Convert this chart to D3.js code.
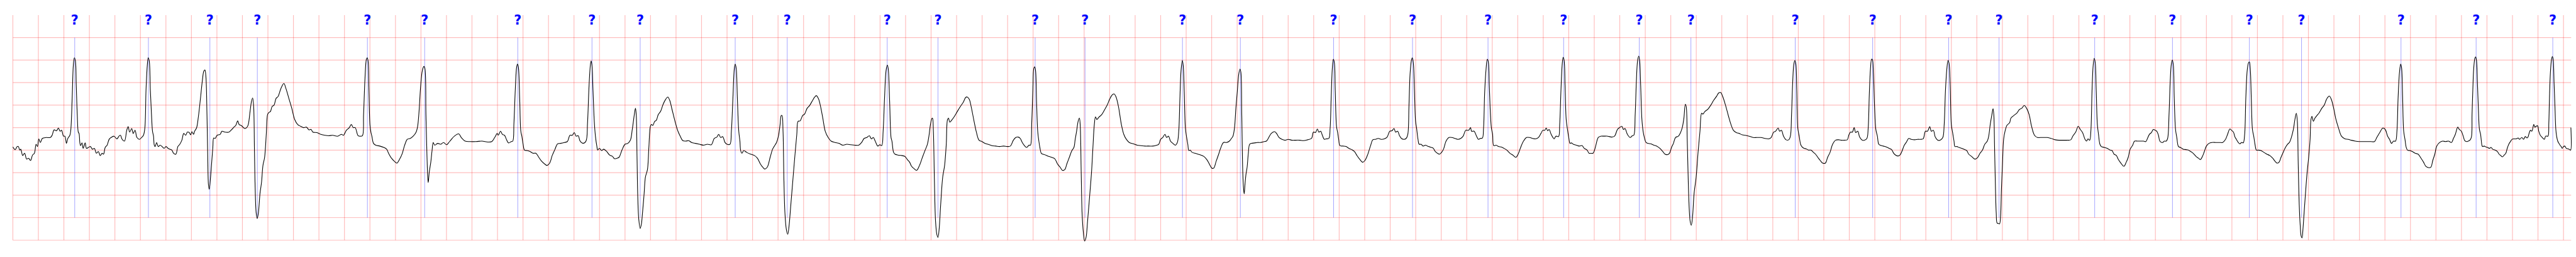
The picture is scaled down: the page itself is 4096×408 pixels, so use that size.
<!DOCTYPE html>
<html>
<head>
<meta charset="utf-8">
<script src="https://cdn.jsdelivr.net/npm/d3@7"></script>
<style>
html,body{margin:0;padding:0;background:#fff;overflow:hidden;}
svg{display:block;}
</style>
</head>
<body>
<svg id="chart"></svg>
<script>
// ECG trace samples: [time (s), amplitude (mV)]
const ecgTrace = [
[0.000,0.07],[0.018,0.01],[0.034,0.08],[0.043,0.08],[0.054,0.00],[0.062,0.02],[0.077,-0.12],[0.092,-0.07],[0.108,-0.20],[0.123,-0.18],
[0.139,-0.23],[0.154,-0.11],[0.169,-0.07],[0.182,0.13],[0.193,0.08],[0.203,0.25],[0.216,0.17],[0.231,0.26],[0.262,0.28],[0.293,0.28],
[0.308,0.33],[0.323,0.45],[0.342,0.43],[0.357,0.49],[0.370,0.42],[0.382,0.44],[0.397,0.31],[0.408,0.31],[0.420,0.15],[0.431,0.26],
[0.447,0.33],[0.454,0.44],[0.465,1.15],[0.474,1.88],[0.482,2.05],[0.490,1.99],[0.497,1.44],[0.505,0.79],[0.513,0.40],[0.519,0.37],
[0.525,0.17],[0.531,0.10],[0.542,0.16],[0.551,0.04],[0.567,0.16],[0.577,0.04],[0.593,0.06],[0.608,0.08],[0.624,0.02],[0.639,0.04],
[0.655,-0.07],[0.670,-0.03],[0.685,-0.12],[0.700,-0.07],[0.711,-0.09],[0.724,0.06],[0.739,0.11],[0.755,0.24],[0.770,0.28],[0.793,0.31],
[0.816,0.25],[0.832,0.31],[0.844,0.33],[0.855,0.25],[0.875,0.20],[0.893,0.44],[0.904,0.52],[0.916,0.40],[0.932,0.48],[0.943,0.37],
[0.958,0.44],[0.973,0.28],[0.993,0.24],[1.009,0.28],[1.024,0.33],[1.035,0.49],[1.044,1.33],[1.054,1.88],[1.061,2.05],[1.069,1.99],
[1.078,1.33],[1.087,0.79],[1.095,0.42],[1.103,0.31],[1.109,0.11],[1.116,0.08],[1.127,0.17],[1.140,0.08],[1.155,0.11],[1.170,0.08],
[1.186,0.04],[1.201,0.08],[1.217,0.04],[1.232,0.02],[1.247,0.00],[1.260,-0.07],[1.278,-0.09],[1.294,0.08],[1.309,0.13],[1.325,0.22],
[1.340,0.37],[1.355,0.33],[1.368,0.40],[1.383,0.39],[1.394,0.34],[1.404,0.41],[1.417,0.35],[1.425,0.42],[1.440,0.49],[1.455,0.75],
[1.471,1.15],[1.486,1.55],[1.497,1.75],[1.506,1.78],[1.514,1.62],[1.522,0.79],[1.528,-0.12],[1.534,-0.78],[1.540,-0.87],[1.548,-0.67],
[1.558,-0.31],[1.568,0.06],[1.575,0.27],[1.586,0.26],[1.602,0.33],[1.625,0.35],[1.640,0.42],[1.663,0.40],[1.694,0.40],[1.717,0.46],
[1.733,0.51],[1.748,0.55],[1.763,0.65],[1.774,0.57],[1.794,0.54],[1.817,0.48],[1.833,0.50],[1.845,0.56],[1.860,0.86],[1.871,1.08],
[1.880,1.16],[1.888,0.97],[1.894,0.06],[1.900,-0.85],[1.908,-1.40],[1.916,-1.52],[1.925,-1.40],[1.938,-0.96],[1.950,-0.71],[1.961,-0.34],
[1.974,-0.16],[1.987,0.35],[1.997,0.79],[2.005,0.83],[2.020,0.86],[2.033,0.97],[2.048,1.00],[2.064,1.15],[2.079,1.19],[2.102,1.37],
[2.125,1.48],[2.141,1.37],[2.164,1.15],[2.187,0.93],[2.210,0.68],[2.233,0.57],[2.256,0.53],[2.279,0.50],[2.302,0.51],[2.322,0.45],
[2.338,0.46],[2.353,0.40],[2.384,0.39],[2.415,0.35],[2.446,0.33],[2.477,0.32],[2.507,0.33],[2.546,0.31],[2.577,0.35],[2.592,0.33],
[2.615,0.44],[2.638,0.50],[2.654,0.57],[2.669,0.50],[2.684,0.50],[2.707,0.32],[2.723,0.31],[2.741,0.32],[2.750,0.79],[2.761,1.59],
[2.772,2.02],[2.778,2.05],[2.785,1.99],[2.792,1.33],[2.800,0.57],[2.808,0.39],[2.815,0.31],[2.828,0.15],[2.846,0.11],[2.877,0.09],
[2.908,0.06],[2.931,0.02],[2.946,-0.07],[2.969,-0.18],[2.992,-0.25],[3.011,-0.29],[3.031,-0.21],[3.054,-0.07],[3.070,0.09],[3.093,0.24],
[3.116,0.26],[3.139,0.31],[3.162,0.40],[3.174,0.53],[3.185,0.86],[3.197,1.40],[3.211,1.77],[3.223,1.86],[3.231,1.81],[3.239,0.79],
[3.247,-0.12],[3.253,-0.60],[3.257,-0.72],[3.265,-0.49],[3.277,-0.27],[3.287,-0.01],[3.296,0.17],[3.308,0.11],[3.331,0.15],[3.354,0.13],
[3.377,0.17],[3.401,0.12],[3.424,0.19],[3.462,0.31],[3.496,0.36],[3.516,0.28],[3.547,0.20],[3.585,0.19],[3.632,0.19],[3.678,0.20],
[3.724,0.18],[3.755,0.19],[3.778,0.28],[3.798,0.37],[3.806,0.33],[3.824,0.42],[3.839,0.35],[3.855,0.33],[3.870,0.24],[3.886,0.16],
[3.909,0.19],[3.920,0.20],[3.929,0.60],[3.940,1.37],[3.950,1.84],[3.957,1.91],[3.964,1.84],[3.974,1.15],[3.983,0.42],[3.991,0.31],
[4.001,0.13],[4.012,0.00],[4.032,-0.01],[4.055,-0.03],[4.078,-0.07],[4.101,-0.07],[4.124,-0.16],[4.147,-0.25],[4.171,-0.31],[4.189,-0.34],
[4.209,-0.29],[4.229,-0.12],[4.251,0.02],[4.271,0.14],[4.294,0.15],[4.325,0.17],[4.348,0.19],[4.368,0.33],[4.386,0.33],[4.402,0.39],
[4.417,0.31],[4.433,0.32],[4.448,0.20],[4.471,0.15],[4.494,0.20],[4.506,0.60],[4.517,1.37],[4.528,1.88],[4.534,1.98],[4.540,1.91],
[4.549,1.33],[4.559,0.64],[4.568,0.31],[4.579,0.09],[4.586,0.00],[4.599,0.04],[4.617,-0.01],[4.633,0.02],[4.656,-0.03],[4.679,-0.11],
[4.702,-0.14],[4.717,-0.19],[4.737,-0.18],[4.753,-0.16],[4.776,0.00],[4.800,0.13],[4.822,0.15],[4.842,0.22],[4.857,0.46],[4.873,0.79],
[4.882,0.93],[4.888,0.79],[4.894,-0.12],[4.900,-1.03],[4.908,-1.54],[4.919,-1.74],[4.928,-1.65],[4.937,-1.40],[4.950,-0.96],[4.960,-0.60],
[4.976,-0.43],[4.987,0.06],[4.999,0.53],[5.007,0.57],[5.018,0.55],[5.033,0.64],[5.045,0.66],[5.061,0.79],[5.079,0.86],[5.099,1.02],
[5.119,1.13],[5.135,1.18],[5.150,1.11],[5.169,0.90],[5.192,0.64],[5.215,0.42],[5.233,0.31],[5.253,0.21],[5.276,0.20],[5.299,0.21],
[5.322,0.17],[5.353,0.15],[5.384,0.13],[5.415,0.11],[5.446,0.13],[5.477,0.12],[5.500,0.26],[5.520,0.29],[5.535,0.35],[5.550,0.28],
[5.566,0.30],[5.584,0.17],[5.600,0.13],[5.623,0.13],[5.634,0.42],[5.646,1.15],[5.657,1.81],[5.664,1.91],[5.672,1.81],[5.681,1.15],
[5.692,0.42],[5.701,0.20],[5.707,-0.01],[5.717,-0.07],[5.731,-0.01],[5.754,-0.05],[5.785,-0.09],[5.815,-0.12],[5.838,-0.18],[5.862,-0.31],
[5.880,-0.38],[5.895,-0.42],[5.915,-0.38],[5.938,-0.16],[5.957,0.02],[5.969,0.08],[5.988,0.17],[6.003,0.31],[6.016,0.57],[6.025,0.77],
[6.031,0.77],[6.039,0.42],[6.046,-0.67],[6.054,-1.40],[6.065,-1.76],[6.076,-1.87],[6.086,-1.69],[6.100,-1.22],[6.116,-0.67],[6.131,-0.16],
[6.147,0.35],[6.157,0.64],[6.173,0.65],[6.193,0.77],[6.208,0.80],[6.228,0.93],[6.247,0.99],[6.270,1.10],[6.285,1.17],[6.300,1.21],
[6.316,1.15],[6.331,1.00],[6.351,0.71],[6.370,0.42],[6.393,0.28],[6.416,0.20],[6.447,0.17],[6.478,0.15],[6.508,0.11],[6.539,0.13],
[6.570,0.12],[6.601,0.11],[6.632,0.11],[6.655,0.17],[6.675,0.26],[6.696,0.28],[6.716,0.32],[6.732,0.25],[6.747,0.28],[6.762,0.20],
[6.782,0.09],[6.798,0.12],[6.813,0.10],[6.824,0.42],[6.835,1.15],[6.847,1.77],[6.857,1.89],[6.864,1.81],[6.875,1.08],[6.886,0.28],
[6.893,0.20],[6.906,-0.05],[6.917,-0.09],[6.940,-0.11],[6.970,-0.12],[6.994,-0.14],[7.014,-0.21],[7.032,-0.27],[7.047,-0.36],[7.066,-0.41],
[7.086,-0.45],[7.109,-0.34],[7.132,-0.16],[7.152,-0.01],[7.171,0.13],[7.183,0.31],[7.195,0.57],[7.206,0.70],[7.211,0.71],[7.218,0.42],
[7.226,-0.67],[7.235,-1.58],[7.245,-1.87],[7.254,-1.94],[7.263,-1.76],[7.275,-1.22],[7.291,-0.60],[7.306,-0.34],[7.319,0.13],[7.329,0.68],
[7.337,0.71],[7.346,0.62],[7.360,0.66],[7.383,0.75],[7.406,0.86],[7.430,0.97],[7.452,1.06],[7.471,1.17],[7.483,1.18],[7.499,1.13],
[7.514,0.97],[7.537,0.64],[7.556,0.39],[7.576,0.22],[7.599,0.19],[7.622,0.15],[7.645,0.13],[7.676,0.10],[7.707,0.09],[7.737,0.08],
[7.768,0.09],[7.799,0.08],[7.822,0.09],[7.845,0.22],[7.864,0.28],[7.884,0.29],[7.899,0.26],[7.915,0.17],[7.935,0.09],[7.950,0.06],
[7.968,0.11],[7.979,0.11],[7.989,0.60],[7.998,1.33],[8.005,1.81],[8.012,1.85],[8.019,1.77],[8.027,1.08],[8.036,0.42],[8.045,0.20],
[8.053,0.06],[8.064,-0.07],[8.076,-0.09],[8.099,-0.11],[8.122,-0.14],[8.146,-0.16],[8.169,-0.19],[8.192,-0.31],[8.212,-0.38],[8.230,-0.45],
[8.249,-0.43],[8.264,-0.31],[8.284,-0.16],[8.304,-0.01],[8.320,0.06],[8.330,0.24],[8.341,0.42],[8.353,0.64],[8.363,0.71],[8.369,0.57],
[8.377,-0.49],[8.384,-1.40],[8.394,-1.83],[8.404,-2.02],[8.415,-1.94],[8.427,-1.58],[8.443,-1.03],[8.458,-0.49],[8.469,0.06],[8.480,0.57],
[8.489,0.74],[8.500,0.68],[8.515,0.73],[8.538,0.79],[8.561,0.90],[8.581,1.00],[8.600,1.13],[8.618,1.22],[8.634,1.25],[8.649,1.19],
[8.669,0.97],[8.692,0.57],[8.711,0.35],[8.731,0.24],[8.754,0.17],[8.785,0.14],[8.816,0.11],[8.846,0.10],[8.877,0.09],[8.908,0.09],
[8.939,0.09],[8.969,0.11],[8.985,0.13],[9.000,0.24],[9.016,0.28],[9.034,0.35],[9.047,0.28],[9.062,0.31],[9.077,0.20],[9.096,0.15],
[9.116,0.11],[9.131,0.17],[9.142,0.42],[9.151,1.15],[9.160,1.77],[9.170,1.99],[9.177,1.88],[9.185,1.30],[9.194,0.49],[9.204,0.28],
[9.213,0.13],[9.221,-0.01],[9.231,0.00],[9.247,-0.05],[9.270,-0.07],[9.293,-0.09],[9.316,-0.11],[9.339,-0.14],[9.362,-0.21],[9.382,-0.31],
[9.401,-0.40],[9.416,-0.40],[9.435,-0.25],[9.455,-0.09],[9.470,0.04],[9.493,0.17],[9.516,0.17],[9.539,0.20],[9.555,0.26],[9.567,0.31],
[9.579,0.49],[9.590,0.93],[9.601,1.30],[9.613,1.70],[9.622,1.80],[9.629,1.73],[9.636,0.79],[9.644,-0.49],[9.650,-0.85],[9.655,-0.97],
[9.662,-0.74],[9.669,-0.54],[9.678,-0.38],[9.687,-0.09],[9.698,0.13],[9.713,0.15],[9.736,0.16],[9.759,0.17],[9.783,0.17],[9.813,0.19],
[9.829,0.20],[9.844,0.26],[9.867,0.37],[9.894,0.41],[9.909,0.37],[9.929,0.28],[9.952,0.24],[9.975,0.22],[10.000,0.24],[10.029,0.22],
[10.060,0.22],[10.091,0.22],[10.121,0.21],[10.152,0.23],[10.183,0.26],[10.198,0.40],[10.214,0.39],[10.229,0.47],[10.240,0.40],[10.255,0.42],
[10.268,0.33],[10.283,0.24],[10.298,0.25],[10.319,0.26],[10.329,0.49],[10.337,1.15],[10.346,1.81],[10.354,2.02],[10.362,1.95],[10.369,1.33],
[10.379,0.53],[10.388,0.39],[10.396,0.24],[10.406,0.10],[10.429,0.09],[10.453,0.08],[10.476,0.04],[10.499,0.01],[10.519,-0.03],[10.537,-0.11],
[10.560,-0.20],[10.584,-0.27],[10.602,-0.23],[10.622,-0.11],[10.645,0.09],[10.664,0.23],[10.684,0.24],[10.707,0.26],[10.730,0.24],[10.753,0.25],
[10.776,0.29],[10.796,0.42],[10.814,0.43],[10.830,0.48],[10.842,0.40],[10.858,0.42],[10.873,0.32],[10.888,0.26],[10.907,0.24],[10.925,0.26],
[10.938,0.35],[10.947,0.97],[10.956,1.70],[10.966,1.99],[10.973,2.05],[10.981,1.95],[10.990,1.33],[10.999,0.64],[11.007,0.49],[11.018,0.24],
[11.027,0.13],[11.042,0.13],[11.058,0.09],[11.076,0.11],[11.099,0.08],[11.122,0.06],[11.138,0.04],[11.153,-0.03],[11.176,-0.08],[11.187,-0.09],
[11.203,-0.05],[11.218,0.02],[11.238,0.20],[11.261,0.28],[11.284,0.28],[11.307,0.26],[11.330,0.24],[11.353,0.26],[11.372,0.31],[11.392,0.44],
[11.415,0.44],[11.430,0.50],[11.438,0.42],[11.458,0.42],[11.477,0.31],[11.492,0.24],[11.507,0.26],[11.523,0.27],[11.532,0.49],[11.541,1.30],
[11.552,1.81],[11.561,2.02],[11.569,1.97],[11.577,1.44],[11.586,0.79],[11.594,0.48],[11.603,0.35],[11.612,0.10],[11.631,0.11],[11.649,0.08],
[11.669,0.07],[11.692,0.04],[11.715,0.00],[11.739,-0.07],[11.762,-0.11],[11.785,-0.16],[11.803,-0.09],[11.823,0.06],[11.843,0.19],[11.869,0.28],
[11.893,0.28],[11.916,0.26],[11.939,0.25],[11.962,0.28],[11.982,0.37],[11.997,0.44],[12.012,0.44],[12.023,0.49],[12.035,0.43],[12.046,0.46],
[12.062,0.35],[12.074,0.29],[12.085,0.25],[12.100,0.31],[12.120,0.30],[12.129,0.57],[12.139,1.33],[12.148,1.88],[12.156,2.06],[12.164,1.99],
[12.171,1.44],[12.180,0.68],[12.190,0.46],[12.200,0.28],[12.210,0.15],[12.220,0.16],[12.236,0.13],[12.259,0.11],[12.282,0.09],[12.305,0.10],
[12.321,0.04],[12.344,0.00],[12.359,-0.07],[12.374,-0.07],[12.390,-0.07],[12.401,-0.01],[12.413,0.11],[12.431,0.28],[12.451,0.31],[12.475,0.31],
[12.505,0.31],[12.536,0.29],[12.559,0.31],[12.582,0.46],[12.598,0.50],[12.616,0.53],[12.629,0.46],[12.641,0.48],[12.660,0.35],[12.682,0.28],
[12.698,0.32],[12.710,0.33],[12.721,0.79],[12.730,1.51],[12.740,1.99],[12.749,2.09],[12.756,1.99],[12.764,1.44],[12.773,0.71],[12.783,0.42],
[12.793,0.28],[12.806,0.17],[12.821,0.15],[12.844,0.14],[12.867,0.11],[12.890,0.09],[12.914,0.04],[12.937,-0.03],[12.955,-0.09],[12.975,-0.10],
[12.990,-0.07],[13.006,0.06],[13.021,0.15],[13.037,0.28],[13.060,0.31],[13.075,0.38],[13.090,0.50],[13.103,0.71],[13.114,1.02],[13.121,0.97],
[13.129,0.24],[13.137,-0.67],[13.145,-1.32],[13.152,-1.58],[13.161,-1.67],[13.171,-1.47],[13.183,-0.96],[13.199,-0.60],[13.214,-0.05],[13.229,0.42],
[13.242,0.82],[13.252,0.80],[13.268,0.86],[13.291,0.91],[13.314,1.00],[13.337,1.11],[13.360,1.20],[13.376,1.27],[13.391,1.28],[13.406,1.20],
[13.429,1.00],[13.453,0.75],[13.472,0.57],[13.491,0.44],[13.514,0.39],[13.537,0.37],[13.560,0.34],[13.583,0.33],[13.614,0.31],[13.645,0.28],
[13.676,0.28],[13.707,0.28],[13.738,0.26],[13.768,0.25],[13.787,0.28],[13.807,0.40],[13.822,0.42],[13.842,0.49],[13.853,0.42],[13.868,0.44],
[13.884,0.31],[13.904,0.23],[13.925,0.23],[13.938,0.31],[13.947,0.79],[13.956,1.51],[13.965,1.91],[13.973,1.99],[13.981,1.91],[13.988,1.33],
[13.996,0.49],[14.007,0.31],[14.018,0.13],[14.027,0.08],[14.045,0.04],[14.061,0.03],[14.079,0.00],[14.099,0.00],[14.119,-0.05],[14.135,-0.09],
[14.153,-0.16],[14.172,-0.23],[14.192,-0.29],[14.212,-0.29],[14.230,-0.16],[14.249,-0.05],[14.269,0.13],[14.292,0.22],[14.315,0.23],[14.338,0.22],
[14.361,0.22],[14.384,0.23],[14.397,0.34],[14.409,0.40],[14.424,0.40],[14.438,0.50],[14.450,0.39],[14.466,0.42],[14.481,0.29],[14.501,0.22],
[14.520,0.22],[14.538,0.26],[14.548,0.49],[14.557,1.26],[14.566,1.81],[14.575,2.02],[14.581,2.01],[14.589,1.70],[14.598,0.97],[14.608,0.46],
[14.620,0.31],[14.631,0.13],[14.643,0.11],[14.666,0.09],[14.689,0.07],[14.712,0.04],[14.732,0.01],[14.748,-0.07],[14.763,-0.11],[14.782,-0.13],
[14.797,-0.11],[14.812,-0.03],[14.831,0.11],[14.846,0.17],[14.866,0.26],[14.886,0.24],[14.913,0.23],[14.936,0.24],[14.959,0.24],[14.979,0.25],
[14.997,0.42],[15.013,0.42],[15.031,0.52],[15.043,0.42],[15.059,0.44],[15.074,0.29],[15.093,0.22],[15.113,0.22],[15.133,0.28],[15.144,0.57],
[15.154,1.33],[15.165,1.81],[15.174,1.99],[15.182,1.93],[15.191,1.44],[15.200,0.57],[15.210,0.39],[15.221,0.20],[15.228,0.08],[15.244,0.08],
[15.259,0.06],[15.282,0.04],[15.305,0.01],[15.321,-0.01],[15.336,-0.09],[15.359,-0.14],[15.385,-0.20],[15.405,-0.17],[15.425,-0.07],[15.444,0.00],
[15.462,0.13],[15.482,0.20],[15.493,0.31],[15.505,0.57],[15.518,0.79],[15.527,0.92],[15.533,0.79],[15.539,0.06],[15.546,-0.85],[15.552,-1.40],
[15.559,-1.62],[15.570,-1.63],[15.578,-1.64],[15.586,-1.47],[15.593,-0.85],[15.601,-0.31],[15.610,0.24],[15.621,0.42],[15.636,0.55],[15.657,0.61],
[15.667,0.71],[15.690,0.77],[15.713,0.82],[15.733,0.90],[15.752,0.93],[15.772,0.99],[15.790,0.93],[15.810,0.79],[15.829,0.53],[15.852,0.33],
[15.875,0.28],[15.898,0.28],[15.921,0.28],[15.952,0.28],[15.983,0.26],[16.014,0.23],[16.045,0.22],[16.075,0.22],[16.106,0.22],[16.137,0.23],
[16.152,0.31],[16.175,0.40],[16.195,0.53],[16.211,0.46],[16.229,0.39],[16.248,0.24],[16.260,0.20],[16.272,0.25],[16.285,0.22],[16.294,0.42],
[16.303,1.30],[16.312,1.88],[16.320,2.04],[16.328,1.95],[16.336,1.33],[16.345,0.57],[16.354,0.35],[16.365,0.13],[16.376,0.08],[16.399,0.06],
[16.422,0.04],[16.445,0.00],[16.460,-0.01],[16.476,-0.09],[16.494,-0.12],[16.510,-0.21],[16.530,-0.29],[16.553,-0.36],[16.571,-0.27],[16.587,-0.16],
[16.602,0.02],[16.622,0.11],[16.637,0.20],[16.661,0.20],[16.684,0.20],[16.707,0.20],[16.725,0.19],[16.738,0.26],[16.753,0.35],[16.769,0.39],
[16.784,0.46],[16.799,0.44],[16.811,0.42],[16.824,0.33],[16.835,0.20],[16.850,0.17],[16.858,0.17],[16.870,0.20],[16.885,0.20],[16.896,0.26],
[16.907,0.79],[16.916,1.51],[16.925,1.91],[16.933,2.00],[16.941,1.88],[16.948,1.15],[16.958,0.46],[16.968,0.28],[16.981,0.08],[16.996,0.06],
[17.019,0.02],[17.042,0.01],[17.058,0.00],[17.076,-0.03],[17.096,-0.07],[17.119,-0.14],[17.138,-0.18],[17.153,-0.21],[17.169,-0.14],[17.184,-0.03],
[17.200,0.09],[17.220,0.15],[17.243,0.17],[17.273,0.17],[17.304,0.17],[17.327,0.17],[17.350,0.24],[17.366,0.35],[17.384,0.47],[17.397,0.44],
[17.412,0.40],[17.424,0.29],[17.435,0.24],[17.450,0.17],[17.461,0.14],[17.477,0.17],[17.489,0.16],[17.500,0.35],[17.509,1.15],[17.520,1.77],
[17.529,1.93],[17.537,1.96],[17.544,1.81],[17.552,1.15],[17.561,0.46],[17.571,0.31],[17.581,0.13],[17.592,0.00],[17.605,0.00],[17.628,-0.01],
[17.651,-0.05],[17.674,-0.09],[17.697,-0.12],[17.720,-0.18],[17.739,-0.25],[17.754,-0.29],[17.769,-0.27],[17.785,-0.16],[17.805,-0.03],[17.820,0.06],
[17.836,0.13],[17.851,0.17],[17.866,0.28],[17.882,0.46],[17.894,0.68],[17.905,0.82],[17.913,0.64],[17.920,-0.31],[17.928,-1.22],[17.936,-1.69],
[17.943,-1.91],[17.950,-1.95],[17.957,-1.76],[17.966,-1.40],[17.977,-0.96],[17.990,-0.49],[18.002,-0.16],[18.013,0.24],[18.020,0.68],[18.028,0.75],
[18.039,0.64],[18.051,0.71],[18.067,0.77],[18.082,0.82],[18.105,0.93],[18.124,1.00],[18.139,1.11],[18.151,1.17],[18.164,1.20],[18.179,1.13],
[18.198,0.93],[18.216,0.68],[18.236,0.49],[18.259,0.31],[18.287,0.25],[18.313,0.24],[18.336,0.22],[18.367,0.20],[18.398,0.19],[18.429,0.19],
[18.459,0.19],[18.490,0.19],[18.518,0.19],[18.536,0.28],[18.559,0.39],[18.583,0.49],[18.595,0.48],[18.606,0.44],[18.621,0.31],[18.636,0.24],
[18.652,0.15],[18.667,0.20],[18.683,0.20],[18.694,0.42],[18.703,1.15],[18.714,1.73],[18.723,1.91],[18.730,1.84],[18.738,1.22],[18.747,0.42],
[18.757,0.24],[18.767,0.06],[18.777,0.00],[18.795,-0.01],[18.814,-0.03],[18.837,-0.07],[18.860,-0.09],[18.883,-0.18],[18.903,-0.27],[18.921,-0.36],
[18.944,-0.39],[18.960,-0.38],[18.975,-0.23],[18.991,-0.09],[19.006,0.09],[19.029,0.17],[19.052,0.20],[19.075,0.19],[19.098,0.20],[19.122,0.17],
[19.137,0.26],[19.152,0.35],[19.171,0.51],[19.183,0.46],[19.199,0.42],[19.214,0.31],[19.226,0.21],[19.240,0.19],[19.253,0.20],[19.266,0.22],
[19.278,0.29],[19.283,0.79],[19.289,1.33],[19.296,1.81],[19.305,2.04],[19.311,2.07],[19.318,1.99],[19.325,1.51],[19.332,0.97],[19.341,0.46],
[19.350,0.35],[19.356,0.20],[19.362,0.09],[19.369,0.08],[19.378,0.09],[19.392,0.07],[19.405,0.06],[19.419,0.04],[19.432,0.06],[19.445,0.02],
[19.463,0.00],[19.481,-0.03],[19.495,-0.09],[19.508,-0.12],[19.521,-0.15],[19.535,-0.11],[19.548,-0.07],[19.559,0.04],[19.571,0.13],[19.584,0.19],
[19.597,0.24],[19.611,0.25],[19.629,0.25],[19.645,0.27],[19.656,0.24],[19.673,0.28],[19.687,0.24],[19.700,0.30],[19.714,0.27],[19.723,0.30],
[19.732,0.39],[19.741,0.44],[19.752,0.42],[19.761,0.51],[19.767,0.57],[19.776,0.51],[19.785,0.53],[19.797,0.54],[19.806,0.42],[19.818,0.33],
[19.834,0.28],[19.850,0.24],[19.860,0.31],[19.870,0.31],[19.879,0.31],[19.885,0.60],[19.890,1.15],[19.897,1.70],[19.906,2.01],[19.913,2.08],
[19.919,2.02],[19.926,1.51],[19.933,0.97],[19.940,0.46],[19.946,0.31],[19.955,0.20],[19.964,0.15],[19.973,0.11],[19.982,0.08],[19.991,0.04],
[20.000,0.08],[20.009,0.09],[20.022,0.04],[20.036,0.03],[20.049,0.01],[20.056,0.00],[20.058,0.50]
];

// Beat annotations
const beatTimes = [0.485,1.063,1.545,1.917,2.780,3.229,3.959,4.541,4.919,5.664,6.072,6.856,7.254,8.016,8.407,9.171,9.625,
  10.356,10.975,11.567,12.160,12.753,13.158,13.976,14.583,15.179,15.574,16.324,16.934,17.537,17.946,18.726,19.315,19.916];
const beatLabels = ["?","?","?","?","?","?","?","?","?","?","?","?","?","?","?","?","?",
  "?","?","?","?","?","?","?","?","?","?","?","?","?","?","?","?","?"];

// Grid: 0.2 s per box, 0.5 mV per box
const timeDomain = [0, 20.06];
const mvGridLines = [2.5, 2.0, 1.5, 1.0, 0.5, 0.0, -0.5, -1.0, -1.5, -2.0];
const secGridStep = 0.2;

const W = 7523, H = 750;
const svg = d3.select("#chart")
  .attr("width", 4096).attr("height", 408)
  .attr("viewBox", `0 0 ${W} ${H}`);

const x = d3.scaleLinear().domain(timeDomain).range([34.4, 7512]);
const y = d3.scaleLinear().domain([2.5, -2.0]).range([109.7, 700.8]);

const secGridLines = d3.range(0, 20.0001, secGridStep);

const grid = svg.append("g").attr("stroke", "#ff0000").attr("stroke-opacity", 0.26).attr("stroke-width", 2.2);
grid.selectAll("line.v").data(secGridLines).join("line")
  .attr("class", "v")
  .attr("x1", d => x(d)).attr("x2", d => x(d))
  .attr("y1", 44).attr("y2", y(-2.0));
grid.selectAll("line.h").data(mvGridLines).join("line")
  .attr("class", "h")
  .attr("x1", x(timeDomain[0])).attr("x2", x(timeDomain[1]))
  .attr("y1", d => y(d)).attr("y2", d => y(d));

// beat marker lines
svg.append("g").selectAll("line").data(beatTimes).join("line")
  .attr("x1", d => x(d)).attr("x2", d => x(d))
  .attr("y1", y(2.5)).attr("y2", y(-1.5))
  .attr("stroke", "#0000ff").attr("stroke-opacity", 0.5).attr("stroke-width", 1.3);

// beat labels
svg.append("g").selectAll("text").data(beatTimes).join("text")
  .attr("x", d => x(d)).attr("y", 72)
  .attr("text-anchor", "middle")
  .attr("font-family", "DejaVu Sans, sans-serif")
  .attr("font-weight", "bold")
  .attr("font-size", 38)
  .attr("fill", "#0000ff")
  .text((d, i) => beatLabels[i]);

// trace
const line = d3.line()
  .x(d => x(d[0])).y(d => y(d[1]))
  .curve(d3.curveCatmullRom.alpha(0.5));
svg.append("path").datum(ecgTrace)
  .attr("d", line)
  .attr("fill", "none")
  .attr("stroke", "#000")
  .attr("stroke-width", 2.0)
  .attr("stroke-linejoin", "round");
</script>
</body>
</html>
